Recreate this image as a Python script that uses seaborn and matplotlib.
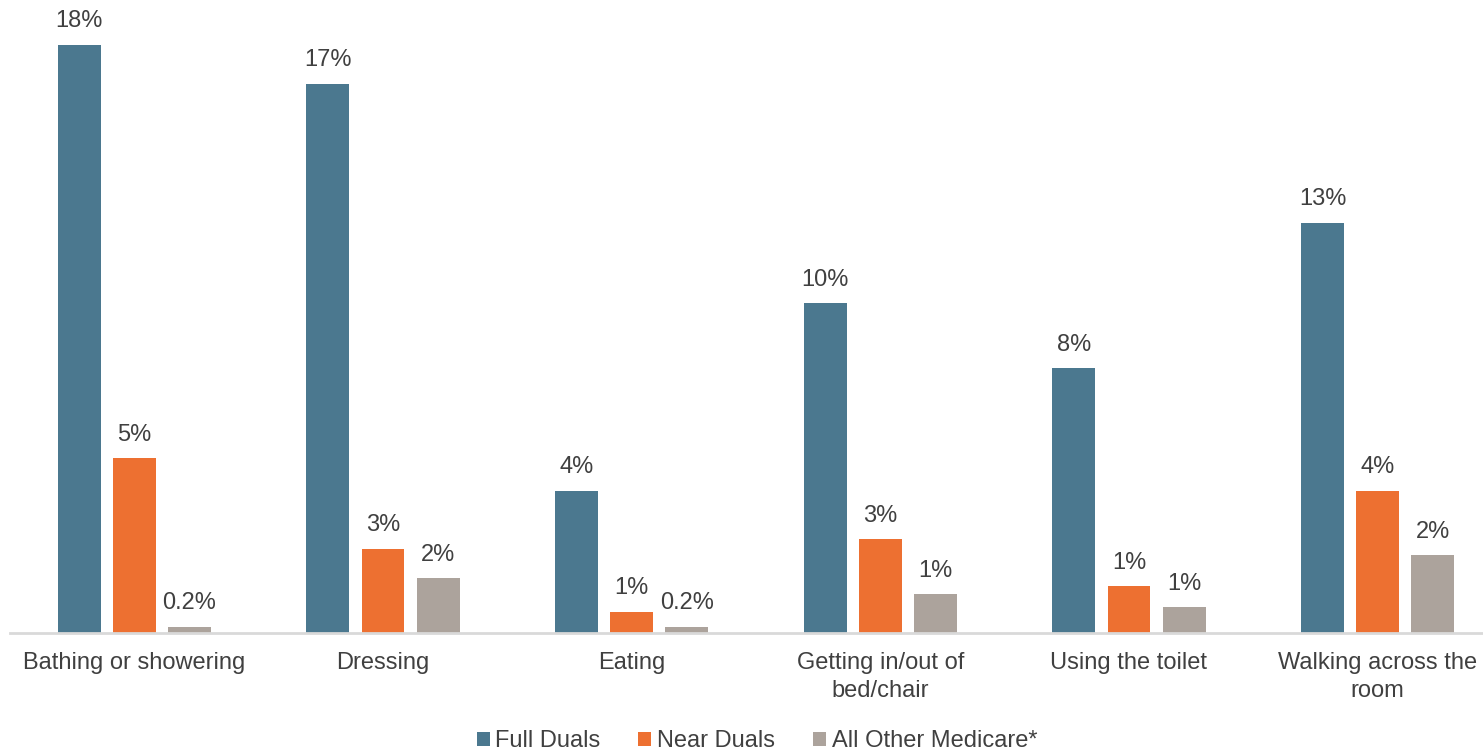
import matplotlib

matplotlib.use("Agg")

import matplotlib.pyplot as plt
import pandas as pd
import seaborn as sns

CATEGORIES = [
    "Bathing or showering",
    "Dressing",
    "Eating",
    "Getting in/out of\nbed/chair",
    "Using the toilet",
    "Walking across the\nroom",
]
SERIES = ["Full Duals", "Near Duals", "All Other Medicare*"]
FULL_DUALS = [18.2, 17.0, 4.4, 10.2, 8.2, 12.7]
NEAR_DUALS = [5.4, 2.6, 0.65, 2.9, 1.45, 4.4]
ALL_OTHER = [0.2, 1.7, 0.2, 1.2, 0.8, 2.4]

COLORS = {
    "Full Duals": "#4B788F",
    "Near Duals": "#ED7031",
    "All Other Medicare*": "#ACA39C",
}
TEXT = "#404040"


def fmt(v: float) -> str:
    return f"{v:.1f}%" if v < 0.5 else f"{v:.0f}%"


def main() -> None:
    sns.set_theme(style="white")
    plt.rcParams["font.family"] = ["Liberation Sans", "DejaVu Sans"]

    rows = []
    for name, values in zip(SERIES, [FULL_DUALS, NEAR_DUALS, ALL_OTHER]):
        for cat, v in zip(CATEGORIES, values):
            rows.append({"Activity": cat, "Group": name, "Share": v})
    df = pd.DataFrame(rows)

    W, H = 1483, 751
    fig = plt.figure(figsize=(W / 100, H / 100), dpi=100)
    ax = fig.add_axes([10 / W, (H - 633) / H, 1492 / W, 614 / H])

    sns.barplot(
        data=df,
        x="Activity",
        y="Share",
        hue="Group",
        order=CATEGORIES,
        hue_order=SERIES,
        palette=COLORS,
        width=0.665,
        gap=0.22,
        edgecolor="none",
        saturation=1,
        errorbar=None,
        ax=ax,
    )

    for container in ax.containers:
        ax.bar_label(
            container,
            labels=[fmt(b.get_height()) for b in container],
            padding=9,
            fontsize=17,
            color=TEXT,
        )

    ax.set_ylim(0, 19)
    ax.set_xlim(-0.5, len(CATEGORIES) - 0.5)
    ax.set_xlabel("")
    ax.set_ylabel("")
    ax.set_yticks([])
    ax.tick_params(axis="x", length=0, pad=14, labelsize=17, labelcolor=TEXT)
    for lbl in ax.get_xticklabels():
        lbl.set_linespacing(1.35)
    for side in ["top", "right", "left"]:
        ax.spines[side].set_visible(False)
    ax.spines["bottom"].set_color("#D9D9D9")
    ax.spines["bottom"].set_linewidth(2)

    handles, labels = ax.get_legend_handles_labels()
    ax.get_legend().remove()
    fig.legend(
        handles,
        labels,
        loc="center",
        bbox_to_anchor=(757 / W, (H - 741) / H),
        ncol=3,
        frameon=False,
        fontsize=17,
        labelcolor=TEXT,
        handlelength=0.55,
        handleheight=0.55,
        handletextpad=0.25,
        columnspacing=1.6,
    )

    fig.savefig("out.png", dpi=100)


if __name__ == "__main__":
    main()
